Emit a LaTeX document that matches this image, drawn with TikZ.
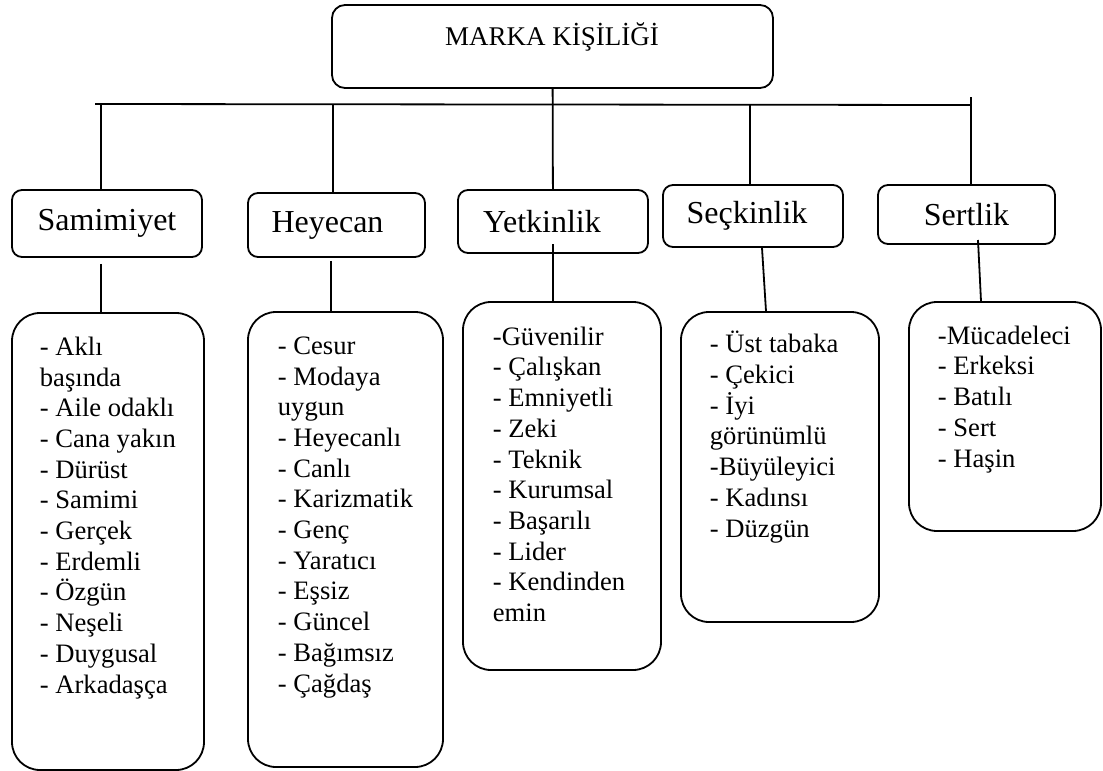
\documentclass[tikz,border=0pt]{standalone}
\usepackage{fontspec}
\setmainfont{Liberation Serif}
\usetikzlibrary{positioning}

\begin{document}
\begin{tikzpicture}[x=0.5pt,y=-0.5pt,line width=0.9pt,
  topbox/.style={draw,rounded corners=6.5pt,inner sep=0pt,minimum width=220.5pt,minimum height=41.5pt},
  catbox/.style={draw,rounded corners=5pt,inner sep=0pt,font=\fontsize{16}{19}\selectfont},
  listbox/.style={draw,rounded corners=14pt,inner sep=0pt},
  listtext/.style={anchor=base west,align=left,inner sep=0pt,font=\fontsize{13.3}{15.35}\selectfont}]
\useasboundingbox (0,0) rectangle (1103,771);
% top
\node[topbox] (marka) at (552.5,46.5) {};
\node[anchor=base,inner sep=0pt,font=\fontsize{13.5}{16}\selectfont] (markatext) at (552,45) {MARKA KİŞİLİĞİ};
% categories
\node[catbox,minimum width=95pt,minimum height=33.5pt] (samimiyet) at (107,223.5) {Samimiyet};
\node[catbox,minimum width=88.5pt,minimum height=32pt] (heyecan) at (336.5,225) {Heyecan\hspace*{9pt}};
\node[catbox,minimum width=95pt,minimum height=31.5pt] (yetkinlik) at (553,221.5) {Yetkinlik\hspace*{11pt}};
\node[catbox,minimum width=90pt,minimum height=31pt] (seckinlik) at (753,216) {Seçkinlik\hspace*{6pt}};
\node[catbox,minimum width=88.5pt,minimum height=29.5pt] (sertlik) at (966.5,214.5) {Sertlik};
% lists (placed at the baseline of their last line)
\node[listbox,minimum width=96pt,minimum height=228.5pt] (samlist) at (108,541.5) {};
\node[listbox,minimum width=97.5pt,minimum height=227.5pt] (heylist) at (345.5,539.5) {};
\node[listbox,minimum width=99pt,minimum height=184pt] (yetlist) at (562,486) {};
\node[listbox,minimum width=99pt,minimum height=155pt] (seclist) at (780,467) {};
\node[listbox,minimum width=96pt,minimum height=114.5pt] (serlist) at (1005,416.5) {};
\node[listtext] (samtext) at (39,693) {- Aklı\\başında\\- Aile odaklı\\- Cana yakın\\- Dürüst\\- Samimi\\- Gerçek\\- Erdemli\\- Özgün\\- Neşeli\\- Duygusal\\- Arkadaşça};
\node[listtext] (heytext) at (277,692) {- Cesur\\- Modaya\\uygun\\- Heyecanlı\\- Canlı\\- Karizmatik\\- Genç\\- Yaratıcı\\- Eşsiz\\- Güncel\\- Bağımsız\\- Çağdaş};
\node[listtext] (yettext) at (492,621.5) {-Güvenilir\\- Çalışkan\\- Emniyetli\\- Zeki\\- Teknik\\- Kurumsal\\- Başarılı\\- Lider\\- Kendinden\\emin};
\node[listtext] (sectext) at (709,537) {- Üst tabaka\\- Çekici\\- İyi\\görünümlü\\-Büyüleyici\\- Kadınsı\\- Düzgün};
\node[listtext] (sertext) at (937,467) {-Mücadeleci\\- Erkeksi\\- Batılı\\- Sert\\- Haşin};
% bus line
\coordinate (busL) at (95,104);
\coordinate (busR) at (971,105);
\coordinate (b1) at (101,105);
\coordinate (b2) at (333,105);
\coordinate (b4) at (750,105);
\coordinate (b5) at (971,97);
\draw (busL) -- (busR);
\draw (marka) -- (yetkinlik);
\draw (b1) -- (b1 |- samimiyet.north);
\draw (b2) -- (b2 |- heyecan.north);
\draw (b4) -- (b4 |- seckinlik.north);
\draw (b5) -- (b5 |- sertlik.north);
% down to the lists
\coordinate (yetalt) at (553,244);
\coordinate (seralt) at (978,240);
\draw[shorten <=3pt] (b1 |- samimiyet.south) -- (b1 |- samlist.north);
\draw[shorten <=1.5pt] (heyecan.south -| 331,0) -- (heylist.north -| 331,0);
\draw (yetalt) -- (yetalt |- yetlist.north);
\draw (seckinlik.south -| 762,0) -- (seclist.north -| 766,0);
\draw (seralt) -- (serlist.north -| 981,0);
\end{tikzpicture}
\end{document}
